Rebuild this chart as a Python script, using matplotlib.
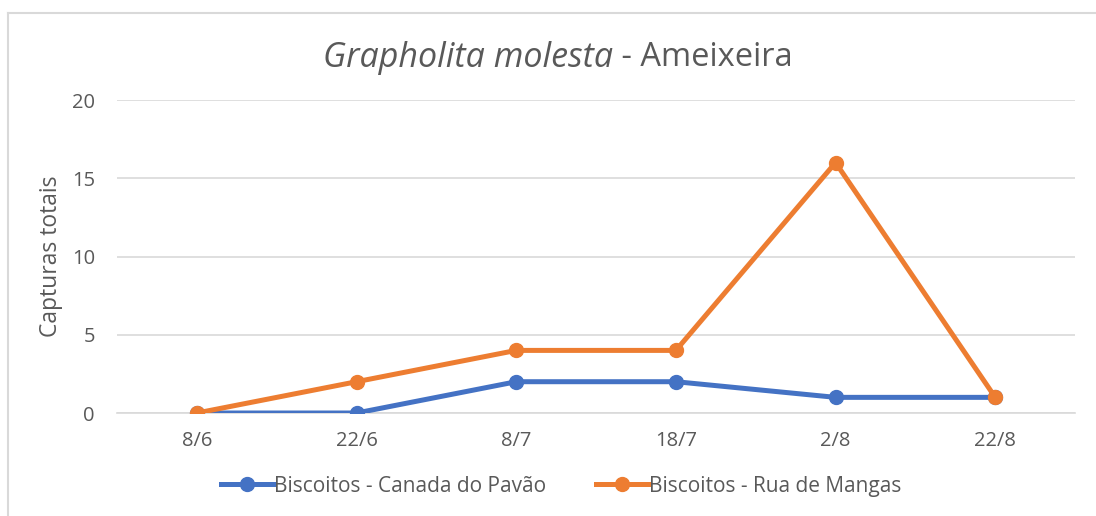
import matplotlib.pyplot as plt
from matplotlib.lines import Line2D

plt.rcParams['font.family'] = ['Open Sans', 'DejaVu Sans']

# Dados
datas = ['8/6', '22/6', '8/7', '18/7', '2/8', '22/8']
canada_pavao = [0, 0, 2, 2, 1, 1]
rua_mangas = [0, 2, 4, 4, 16, 1]

azul = '#4472C4'
laranja = '#ED7D31'
cinza_txt = '#595959'

fig = plt.figure(figsize=(10.96, 5.16), dpi=100)
ax = fig.add_axes([0.1068, 0.1996, 0.8741, 0.6066])

x = range(len(datas))
ax.plot(x, canada_pavao, color=azul, lw=3.6, marker='o', ms=10,
        label='Biscoitos - Canada do Pavão', zorder=3)
ax.plot(x, rua_mangas, color=laranja, lw=3.6, marker='o', ms=10,
        label='Biscoitos - Rua de Mangas', zorder=4)

ax.set_xlim(-0.5, len(datas) - 0.5)
ax.set_ylim(0, 20)
ax.set_yticks([0, 5, 10, 15, 20])
ax.set_xticks(list(x))
ax.set_xticklabels(datas)
ax.grid(axis='y', color='#D9D9D9', lw=1.2)
ax.set_axisbelow(True)
for s in ['top', 'right', 'left']:
    ax.spines[s].set_visible(False)
ax.spines['bottom'].set_color('#D9D9D9')
ax.spines['bottom'].set_linewidth(1.2)
ax.tick_params(length=0, labelsize=14.5, colors=cinza_txt, pad=13)
ax.tick_params(axis='y', pad=16)
ax.set_ylabel('Capturas totais', fontsize=16.5, color=cinza_txt, labelpad=6)

fig.text(0.559, 0.888, 'Grapholita molesta', fontsize=24.5, style='italic',
         color=cinza_txt, ha='right', va='center')
fig.text(0.559, 0.888, ' - Ameixeira', fontsize=23.5,
         color=cinza_txt, ha='left', va='center')

ax.legend(loc='upper center', bbox_to_anchor=(0.4635, -0.14), ncol=2,
          frameon=False, fontsize=15, labelcolor=cinza_txt,
          handlelength=2.5, handletextpad=0.05, columnspacing=2.4)

# moldura do gráfico
fig.add_artist(Line2D([8 / 1096, 8 / 1096], [0, 1 - 13 / 516],
                      color='#D9D9D9', lw=1.5, transform=fig.transFigure))
fig.add_artist(Line2D([8 / 1096, 1], [1 - 13 / 516, 1 - 13 / 516],
                      color='#D9D9D9', lw=1.5, transform=fig.transFigure))

fig.savefig('out.png', dpi=100)
